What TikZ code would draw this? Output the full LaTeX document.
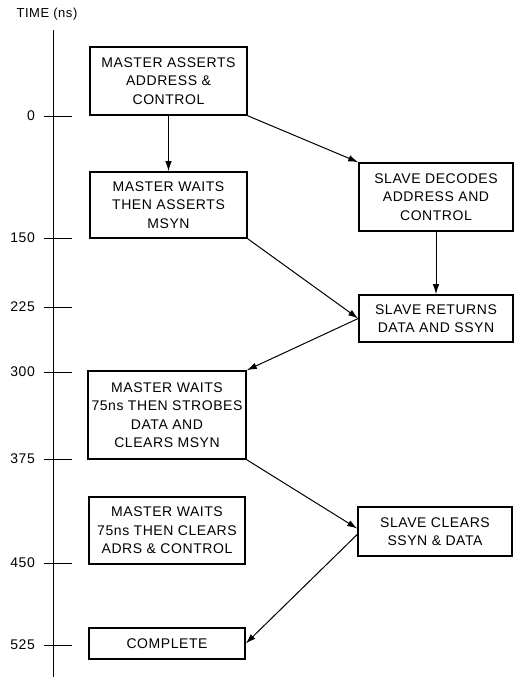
\documentclass[tikz,border=0pt]{standalone}
\usepackage{fontspec}
\setmainfont{Liberation Sans}[LetterSpace=4]
\usepackage{tikz}
\usetikzlibrary{arrows.meta}

\begin{document}
\begin{tikzpicture}[x=1pt, y=-1pt, font=\fontsize{14}{18.5}\selectfont,
    box/.style={draw, line width=1.6pt, align=center, inner sep=1pt},
    flow/.style={-{Latex[length=10pt,width=6.5pt]}, line width=1pt},
    axis/.style={line width=1pt}]
  \useasboundingbox (0,0) rectangle (515,677);
  \node (title) at (47,14) {\fontsize{13}{15}\selectfont TIME (ns)};
  \draw[axis] (53,30) -- (53,677);
  \foreach \t/\y in {0/116,150/238,225/307,300/372,375/459,450/563,525/645}{
    \draw[axis] (44,\y) -- (72,\y);
    \node[anchor=east, inner sep=0pt] (t\t) at (35,\y) {\t};
  }
  \node[box, minimum width=157, minimum height=68] (m1) at (168.5,81) {MASTER ASSERTS\\ADDRESS \&\\CONTROL};
  \node[box, minimum width=157, minimum height=66] (m2) at (168.5,205) {MASTER WAITS\\THEN ASSERTS\\MSYN};
  \node[box, minimum width=154, minimum height=68] (s1) at (436,197) {SLAVE DECODES\\ADDRESS AND\\CONTROL};
  \node[box, minimum width=154, minimum height=47] (s2) at (436,318.5) {SLAVE RETURNS\\DATA AND SSYN};
  \node[box, minimum width=158, minimum height=88] (m3) at (167,415) {MASTER WAITS\\75ns THEN STROBES\\DATA AND\\CLEARS MSYN};
  \node[box, minimum width=156, minimum height=67] (m4) at (167,530.5) {MASTER WAITS\\75ns THEN CLEARS\\ADRS \& CONTROL};
  \node[box, minimum width=154, minimum height=49] (s3) at (435,531.5) {SLAVE CLEARS\\SSYN \& DATA};
  \node[box, minimum width=156, minimum height=31] (m5) at (167,643.5) {COMPLETE};
  \draw[flow] (m1) -- (m2);
  \draw[flow] (m1.south east) -- (s1.north west);
  \draw[flow] (s1) -- (s2);
  \draw[flow] (m2.south east) -- (s2.west);
  \draw[flow] (s2.west) -- (m3.north east);
  \draw[flow] (m3.south east) -- ([yshift=3pt]s3.west);
  \draw[flow] ([yshift=-3pt]s3.west) -- (m5.east);
\end{tikzpicture}
\end{document}
